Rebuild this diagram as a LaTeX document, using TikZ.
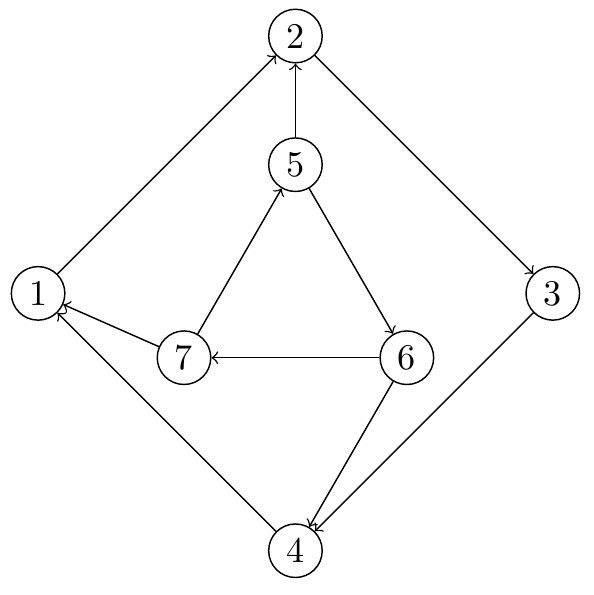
\documentclass[tikz,border=0pt]{standalone}
\usetikzlibrary{positioning, calc}
\tikzset{%
  vertex/.style = {circle, draw, minimum size=14.8pt, inner sep=1pt},
  link/.style = {->}
  }

\begin{document}
\begin{tikzpicture}
  \useasboundingbox (-0.37,-2.93) rectangle (5.4,2.85);
  % outer square
  \node (n1) [vertex] at (0,0) {1};
  \node (n2) [vertex] at (2.5,2.5) {2};
  \node (n3) [vertex] at (5,0) {3};
  \node (n4) [vertex] at (2.5,-2.5) {4};
  % inner triangle
  \node (n5) [vertex] at ($(2.5,0)+(90:1.25)$) {5};
  \node (n6) [vertex] at ($(2.5,0)+(-30:1.25)$) {6};
  \node (n7) [vertex] at ($(2.5,0)+(210:1.25)$) {7};

  \path[link]
    (n1) edge (n2)
    (n5) edge (n2)
    (n2) edge (n3)
    (n5) edge (n6)
    (n7) edge (n5)
    (n6) edge (n7)
    (n7) edge (n1)
    (n4) edge (n1)
    (n6) edge (n4)
    (n3) edge (n4);
\end{tikzpicture}
\end{document}
